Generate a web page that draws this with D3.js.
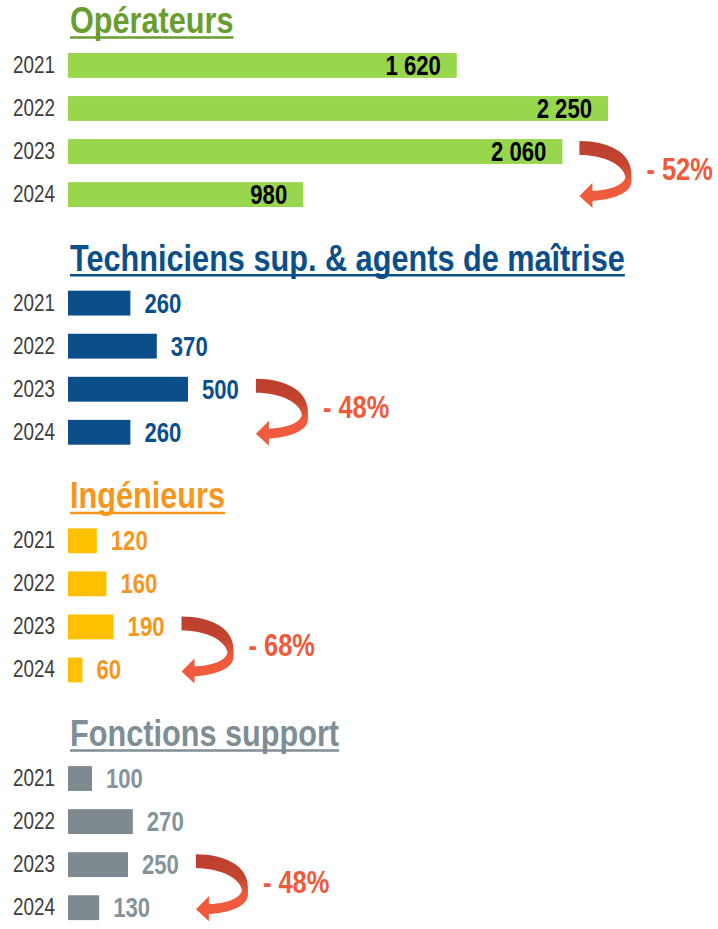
<!DOCTYPE html>
<html>
<head>
<meta charset="utf-8">
<script src="https://cdn.jsdelivr.net/npm/d3@7"></script>
<style>
  body { margin: 0; background: #fff; }
  svg { display: block; }
</style>
</head>
<body>
<svg id="chart" width="718" height="929"></svg>
<script>
var years = ['2021', '2022', '2023', '2024'];
var categories = ['Opérateurs', 'Techniciens sup. & agents de maîtrise', 'Ingénieurs', 'Fonctions support'];
var operateurs = [1620, 2250, 2060, 980];
var techniciens = [260, 370, 500, 260];
var ingenieurs = [120, 160, 190, 60];
var fonctionsSupport = [100, 270, 250, 130];
var variations = ['- 52%', '- 48%', '- 68%', '- 48%'];

var series = [operateurs, techniciens, ingenieurs, fonctionsSupport];

var styles = [
  {title: '#6a9d2f', bar: '#98d64e', label: '#000000', inside: true},
  {title: '#0b4f8a', bar: '#0b4f8a', label: '#0b4f8a', inside: false},
  {title: '#f7961c', bar: '#ffc000', label: '#f7961c', inside: false},
  {title: '#7f8d94', bar: '#7e8a8f', label: '#85939a', inside: false}
];

var font = '"Liberation Sans Narrow", "Arial Narrow", "Liberation Sans", Arial, sans-serif';
var svg = d3.select('#chart');

// check if the narrow face is really there, else squeeze the regular one
var probe = svg.append('text').attr('font-family', font).attr('font-size', 100).text('0000');
var probe2 = svg.append('text').attr('font-family', '"Liberation Sans", Arial').attr('font-size', 100).text('0000');
var k = probe.node().getComputedTextLength() / probe2.node().getComputedTextLength() < 0.9 ? 1 : 0.82;
probe.remove(); probe2.remove();

function place(t, x, y) {
  return t.attr('transform', 'translate(' + x + ',' + y + ') scale(' + k + ',1)');
}
function width(t) { return t.node().getComputedTextLength() * k; }

var x = d3.scaleLinear().domain([0, 2250]).range([68, 608]);
var panelTop = d3.scaleLinear().domain([0, 1]).range([0, 237.7]);
var y = d3.scaleBand().domain(years).range([53, 207]).paddingInner(0.423).paddingOuter(0);

var defs = svg.append('defs');
var grad = defs.append('linearGradient').attr('id', 'arrowGrad')
    .attr('x1', 0).attr('y1', 0).attr('x2', 0).attr('y2', 1);
grad.append('stop').attr('offset', '0%').attr('stop-color', '#bb3f2f');
grad.append('stop').attr('offset', '35%').attr('stop-color', '#c4452f');
grad.append('stop').attr('offset', '60%').attr('stop-color', '#ef5a3c');
grad.append('stop').attr('offset', '100%').attr('stop-color', '#f25c3e');

// curled arrow, relative to its top-left corner
var arrowPath = 'M0,0 C30,0 52,12 52,33 L52,40 C52,52 35,58 13,60 L13,67 L0,55 L13,42 L13,50 ' +
  'C30,49 44,45 46,36 C44,24 25,14 0,14 Z';

categories.forEach(function (cat, i) {
  var st = styles[i];
  var data = series[i];
  var g = svg.append('g').attr('transform', 'translate(0,' + panelTop(i) + ')');

  var title = place(g.append('text'), 70, y(years[0]) - 20)
      .attr('font-family', font).attr('font-weight', 'bold').attr('font-size', 37.4)
      .attr('fill', st.title).text(cat);
  g.append('line')
      .attr('x1', 70).attr('x2', 70 + width(title))
      .attr('y1', y(years[0]) - 15.5).attr('y2', y(years[0]) - 15.5)
      .attr('stroke', st.title).attr('stroke-width', 2.5);

  var row = g.selectAll('.row')
      .data(data)
    .enter().append('g')
      .attr('class', 'row');

  row.append('rect')
      .attr('x', x(0))
      .attr('y', function (d, j) { return y(years[j]); })
      .attr('width', function (d) { return x(d) - x(0); })
      .attr('height', y.bandwidth())
      .attr('fill', st.bar);

  row.append('text')
      .each(function (d, j) { place(d3.select(this), 55, y(years[j]) + y.bandwidth() / 2 + 7.5); })
      .attr('text-anchor', 'end')
      .attr('font-family', font).attr('font-size', 23)
      .attr('fill', '#3d3d3d')
      .text(function (d, j) { return years[j]; });

  var ends = [];
  row.append('text')
      .attr('font-family', font).attr('font-weight', 'bold').attr('font-size', 27)
      .attr('fill', st.label)
      .attr('text-anchor', st.inside ? 'end' : 'start')
      .text(function (d) { return d3.format(',')(d).replace(/,/g, ' '); })
      .each(function (d, j) {
        var t = d3.select(this);
        var xx = st.inside ? x(d) - 16 : x(d) + 14;
        place(t, xx, y(years[j]) + y.bandwidth() / 2 + 9.5);
        ends[j] = st.inside ? x(d) : xx + width(t);
      });

  var ax = ends[2] + 17, ay = y(years[2]) + 2;
  g.append('path')
      .attr('d', arrowPath)
      .attr('transform', 'translate(' + ax + ',' + ay + ')')
      .attr('fill', 'url(#arrowGrad)');

  place(g.append('text'), ax + 67, ay + 39)
      .attr('font-family', font).attr('font-weight', 'bold').attr('font-size', 31)
      .attr('fill', '#ef5a3c')
      .text(variations[i]);
});
</script>
</body>
</html>
